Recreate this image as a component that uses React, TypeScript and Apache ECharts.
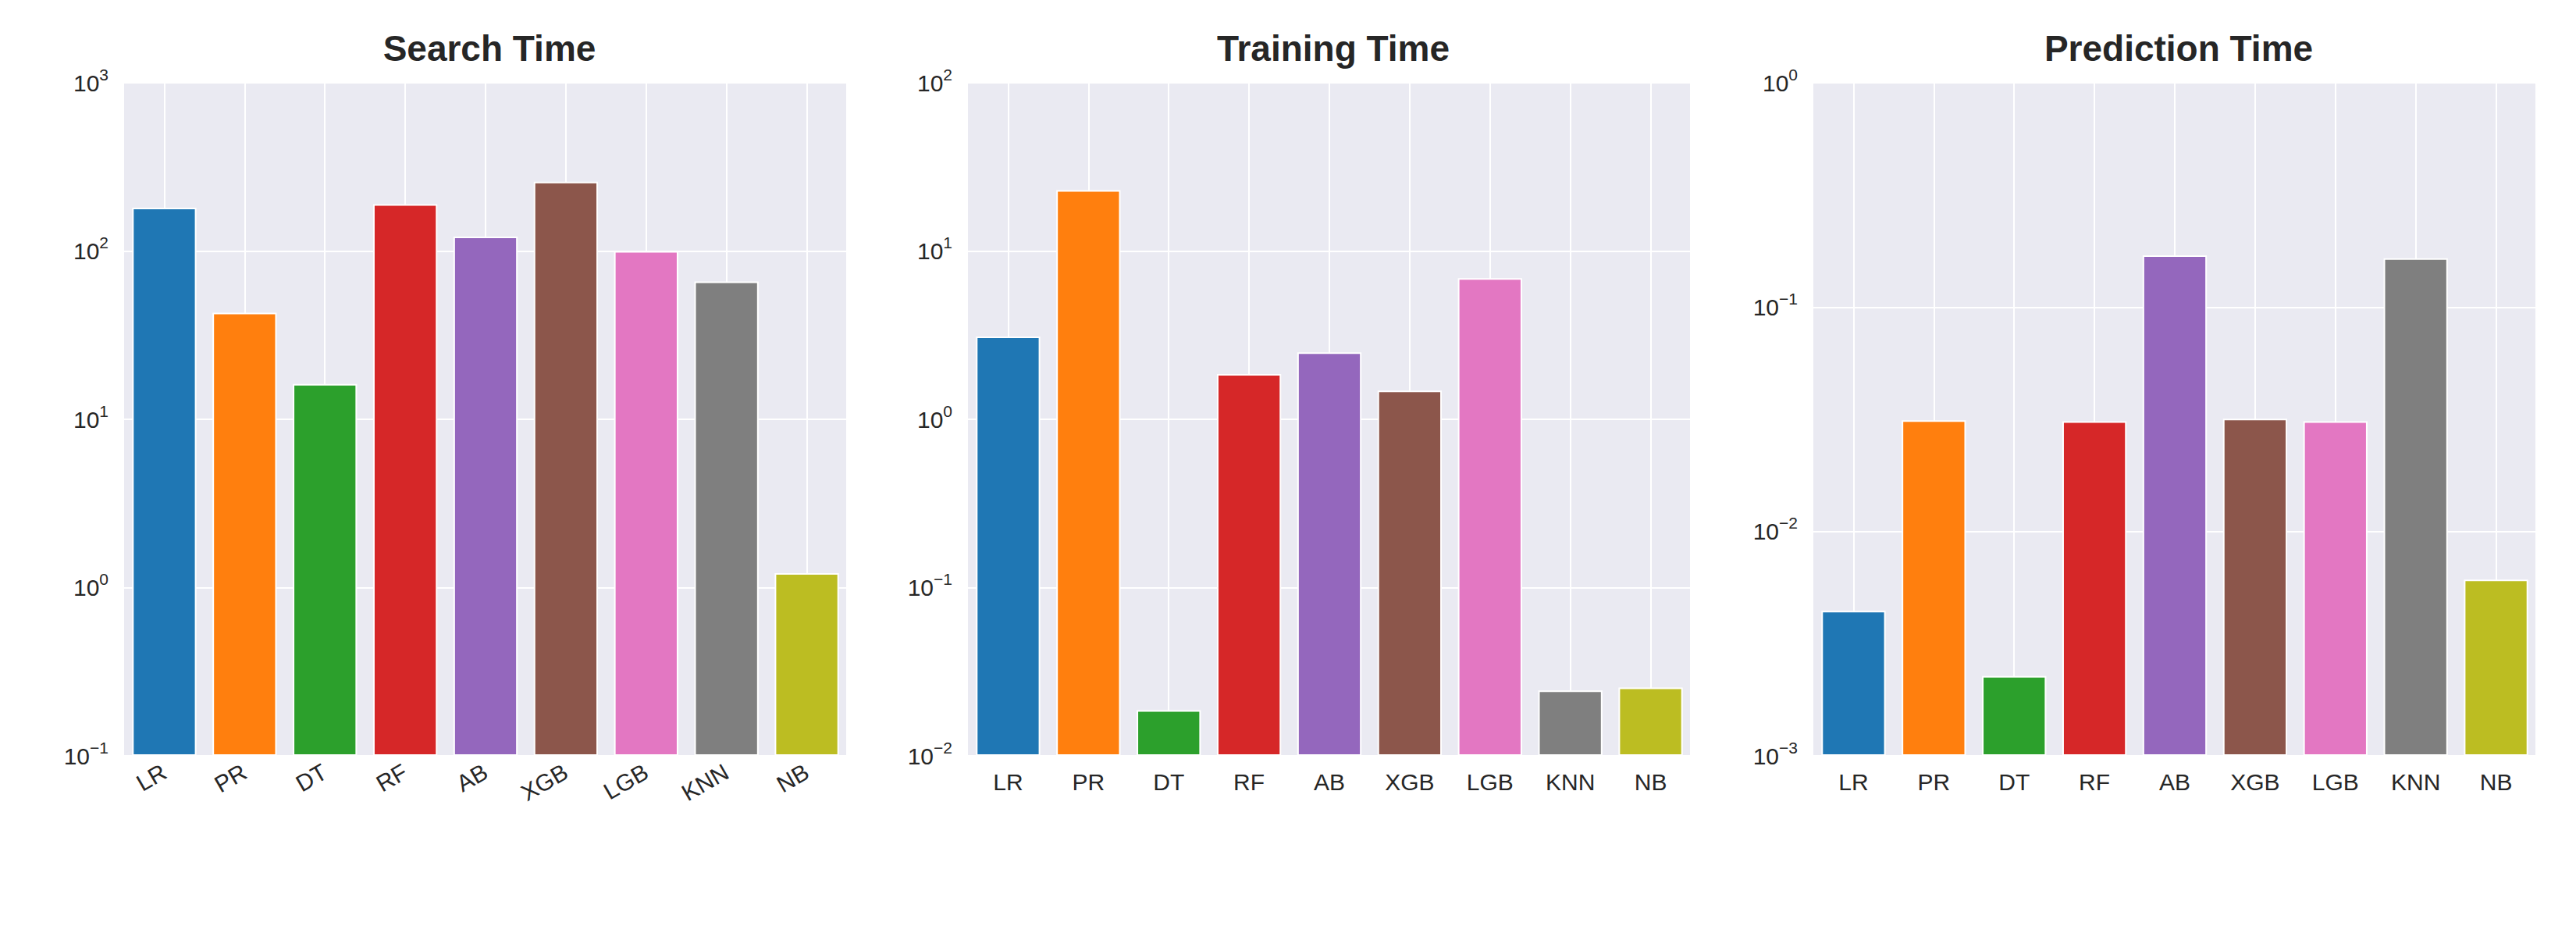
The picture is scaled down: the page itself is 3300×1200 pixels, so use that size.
import { useEffect, useRef } from "react";
import * as echarts from "echarts";

const models = ["LR", "PR", "DT", "RF", "AB", "XGB", "LGB", "KNN", "NB"];
const colors = ["#1f77b4", "#ff7f0e", "#2ca02c", "#d62728", "#9467bd", "#8c564b", "#e377c2", "#7f7f7f", "#bcbd22"];
const searchTime = [181, 43, 16.2, 190, 122, 258, 100, 66, 1.22];
const trainingTime = [3.1, 23, 0.0187, 1.86, 2.5, 1.48, 6.9, 0.0245, 0.0255];
const predictionTime = [0.00443, 0.0313, 0.00227, 0.031, 0.17, 0.0318, 0.031, 0.165, 0.0061];
const titles = ["Search Time", "Training Time", "Prediction Time"];
const yRanges = [[0.1, 1000], [0.01, 100], [0.001, 1]];

const App = () => {
	const chartRef = useRef<HTMLDivElement>(null);

	useEffect(() => {
		if (!chartRef.current) return;
		const chart = echarts.init(chartRef.current, null, { renderer: "svg" });
		const data = [searchTime, trainingTime, predictionTime];
		const lefts = [159, 1240, 2323];
		const width = 926;
		// half-category axis, used only to draw vertical grid lines through bar centres
		const halves = models.flatMap((m) => [m + "a", m + "b"]);

		const supFmt = (v: number) => {
			const e = Math.round(Math.log10(v));
			return `10{s|${e < 0 ? "\u2212" + -e : e}}`;
		};

		const option = {
			animation: false,
			title: titles.map((t, i) => ({
				text: t,
				left: lefts[i] + width / 2,
				top: 34,
				textAlign: "center",
				textStyle: { fontFamily: "Liberation Sans", fontSize: 46, fontWeight: "bold", color: "#262626" },
			})),
			grid: lefts.map((l) => ({
				left: l, width, top: 106, height: 862,
				show: true, backgroundColor: "#EAEAF2", borderWidth: 0,
			})),
			xAxis: [
				...lefts.map((_, i) => ({
					type: "category",
					gridIndex: i,
					data: models,
					axisLine: { show: false },
					axisTick: { show: false },
					splitLine: { show: false },
					axisLabel: {
						fontFamily: "Liberation Sans", fontSize: 30, color: "#262626", margin: 18,
						rotate: i === 0 ? 30 : 0,
					},
				})),
				...lefts.map((_, i) => ({
					type: "category",
					gridIndex: i,
					data: halves,
					axisLine: { show: false },
					axisTick: { show: false },
					axisLabel: { show: false },
					splitLine: {
						show: true,
						interval: (idx: number) => idx % 2 === 1,
						lineStyle: { color: "#ffffff", width: 2 },
					},
				})),
			],
			yAxis: yRanges.map((r, i) => ({
				type: "log",
				logBase: 10,
				gridIndex: i,
				min: r[0],
				max: r[1],
				splitNumber: Math.round(Math.log10(r[1] / r[0])),
				axisLine: { show: false },
				axisTick: { show: false },
				splitLine: { lineStyle: { color: "#ffffff", width: 2 } },
				axisLabel: {
					formatter: supFmt,
					fontFamily: "Liberation Sans", fontSize: 30, color: "#262626", margin: 20,
					rich: { s: { fontSize: 21, verticalAlign: "top", padding: [0, 0, 22, 0], fontFamily: "Liberation Sans", color: "#262626" } },
				},
			})),
			series: data.flatMap((vals, i) => [
				{
					type: "bar",
					xAxisIndex: i,
					yAxisIndex: i,
					stack: "s" + i,
					barCategoryGap: "20%",
					silent: true,
					itemStyle: { color: "transparent" },
					data: vals.map(() => yRanges[i][0]),
				},
				{
					type: "bar",
					xAxisIndex: i,
					yAxisIndex: i,
					stack: "s" + i,
					barCategoryGap: "20%",
					data: vals.map((v, j) => ({
						value: v - yRanges[i][0],
						itemStyle: { color: colors[j], borderColor: "#ffffff", borderWidth: 2 },
					})),
				},
			]),
		};

		chart.setOption(option);
		return () => chart.dispose();
	}, []);

	return <div ref={chartRef} style={{ position: "absolute", left: 0, top: 0, width: 3300, height: 1200, background: "#fff" }} />;
};

export default App;
